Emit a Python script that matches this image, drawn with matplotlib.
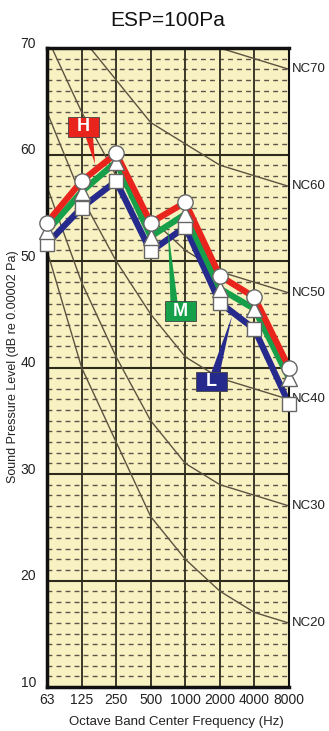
import matplotlib
matplotlib.use("Agg")
import matplotlib.pyplot as plt
from matplotlib.patches import Rectangle, Polygon
import numpy as np

plt.rcParams['font.family'] = ['Liberation Sans', 'DejaVu Sans']

# ---- data ----
freq_labels = ["63", "125", "250", "500", "1000", "2000", "4000", "8000"]
spl_H = [53.6, 57.5, 60.1, 53.6, 55.5, 48.6, 46.6, 40.0]
spl_M = [52.8, 56.5, 59.3, 52.3, 54.4, 47.4, 45.5, 39.0]
spl_L = [51.6, 55.0, 57.5, 50.9, 53.2, 46.1, 43.6, 36.6]

nc_names = ["NC20", "NC30", "NC40", "NC50", "NC60", "NC70"]
nc20 = [51, 40, 33, 26, 22, 19, 17, 16]
nc30 = [57, 48, 41, 35, 31, 29, 28, 27]
nc40 = [64, 56, 50, 45, 41, 39, 38, 37]
nc50 = [71, 64, 58, 54, 51, 49, 48, 47]
nc60 = [77, 71, 67, 63, 61, 59, 58, 57]
nc70 = [83, 79, 75, 72, 71, 70, 69, 68]
nc_curves = [nc20, nc30, nc40, nc50, nc60, nc70]

y_ticks = [10, 20, 30, 40, 50, 60, 70]

W, H = 329, 731
fig = plt.figure(figsize=(W / 100, H / 100), dpi=100)
ax = fig.add_axes([47 / W, 1 - 687 / H, (289 - 47) / W, (687 - 48) / H])
ax.set_facecolor('#f8f1c2')
x = np.arange(len(freq_labels))
ax.set_xlim(0, len(freq_labels) - 1)
ax.set_ylim(10, 70)

# minor dashed grid every 1 dB
for v in range(11, 70):
    if v % 10 != 0:
        ax.axhline(v, color='#5a5548', lw=1.0, ls=(0, (3.5, 3)), zorder=1)
# major grid
for v in y_ticks[1:-1]:
    ax.axhline(v, color='#2e2a1c', lw=1.5, zorder=1.5)
for xi in x[1:-1]:
    ax.axvline(xi, color='#2e2a1c', lw=1.3, zorder=1.5)

# NC curves
for name, curve in zip(nc_names, nc_curves):
    ax.plot(x, curve, color='#5c5340', lw=1.0, zorder=2, clip_on=True)
    ax.text(len(x) - 1 + 0.08, curve[-1], name, ha='left', va='center',
            fontsize=9.5, color='#222222', clip_on=False)

# series
series = [(spl_L, '#262a8c', 's'), (spl_M, '#17a04a', '^'), (spl_H, '#e8241c', 'o')]
for vals, col, mk in series:
    ax.plot(x, vals, color=col, lw=4.5, zorder=3, solid_joinstyle='miter')
for vals, col, mk in series:
    ax.plot(x, vals, ls='none', marker=mk, ms=11 if mk != 's' else 10,
            mfc='white', mec='#666666', mew=1.0, zorder=9, clip_on=False)

# labels with pointers
labels = [("H", '#e8241c', (1.06, 62.6), [(1.10, 61.8), (1.33, 61.8)], (1.39, 59.1)),
          ("M", '#17a04a', (3.86, 45.3), [(3.57, 46.1), (3.78, 46.1)], (3.50, 53.0)),
          ("L", '#262a8c', (4.76, 38.7), [(4.75, 39.5), (5.00, 39.5)], (5.35, 44.8))]
hw, hh = 0.44, 0.92
for txt, col, (cx, cy), base, tip in labels:
    ax.add_patch(Polygon([base[0], base[1], tip], closed=True, fc=col, ec='none', zorder=5))
    ax.add_patch(Rectangle((cx - hw, cy - hh), 2 * hw, 2 * hh, fc=col, ec='#444444',
                           lw=0.6, zorder=6))
    ax.text(cx, cy, txt, ha='center', va='center', color='white', fontsize=13,
            fontweight='bold', zorder=7)

# axes styling
ax.set_xticks(x)
ax.set_xticklabels(freq_labels, fontsize=10, color='#222222')
ax.set_yticks(y_ticks)
ax.set_yticklabels([str(v) for v in y_ticks], fontsize=10, color='#222222')
for lbl in ax.get_yticklabels():
    lbl.set_verticalalignment('baseline')
ax.tick_params(length=0, pad=4)
ax.tick_params(axis='y', pad=8)
for s in ['left', 'bottom', 'top']:
    ax.spines[s].set_linewidth(2.5)
ax.spines['right'].set_linewidth(1.5)
for s in ax.spines.values():
    s.set_color('#111111')
    s.set_zorder(8)

fig.text(168 / W, 1 - 20 / H, "ESP=100Pa", ha='center', va='center', fontsize=15, color='#111111')
fig.text(176 / W, 1 - 722 / H, "Octave Band Center Frequency (Hz)", ha='center', va='center',
         fontsize=9.5, color='#222222')
fig.text(13 / W, 1 - 367 / H, "Sound Pressure Level (dB re 0.00002 Pa)", ha='center', va='center',
         rotation=90, fontsize=9, color='#222222')

fig.savefig("out.png", dpi=100, facecolor='white')
